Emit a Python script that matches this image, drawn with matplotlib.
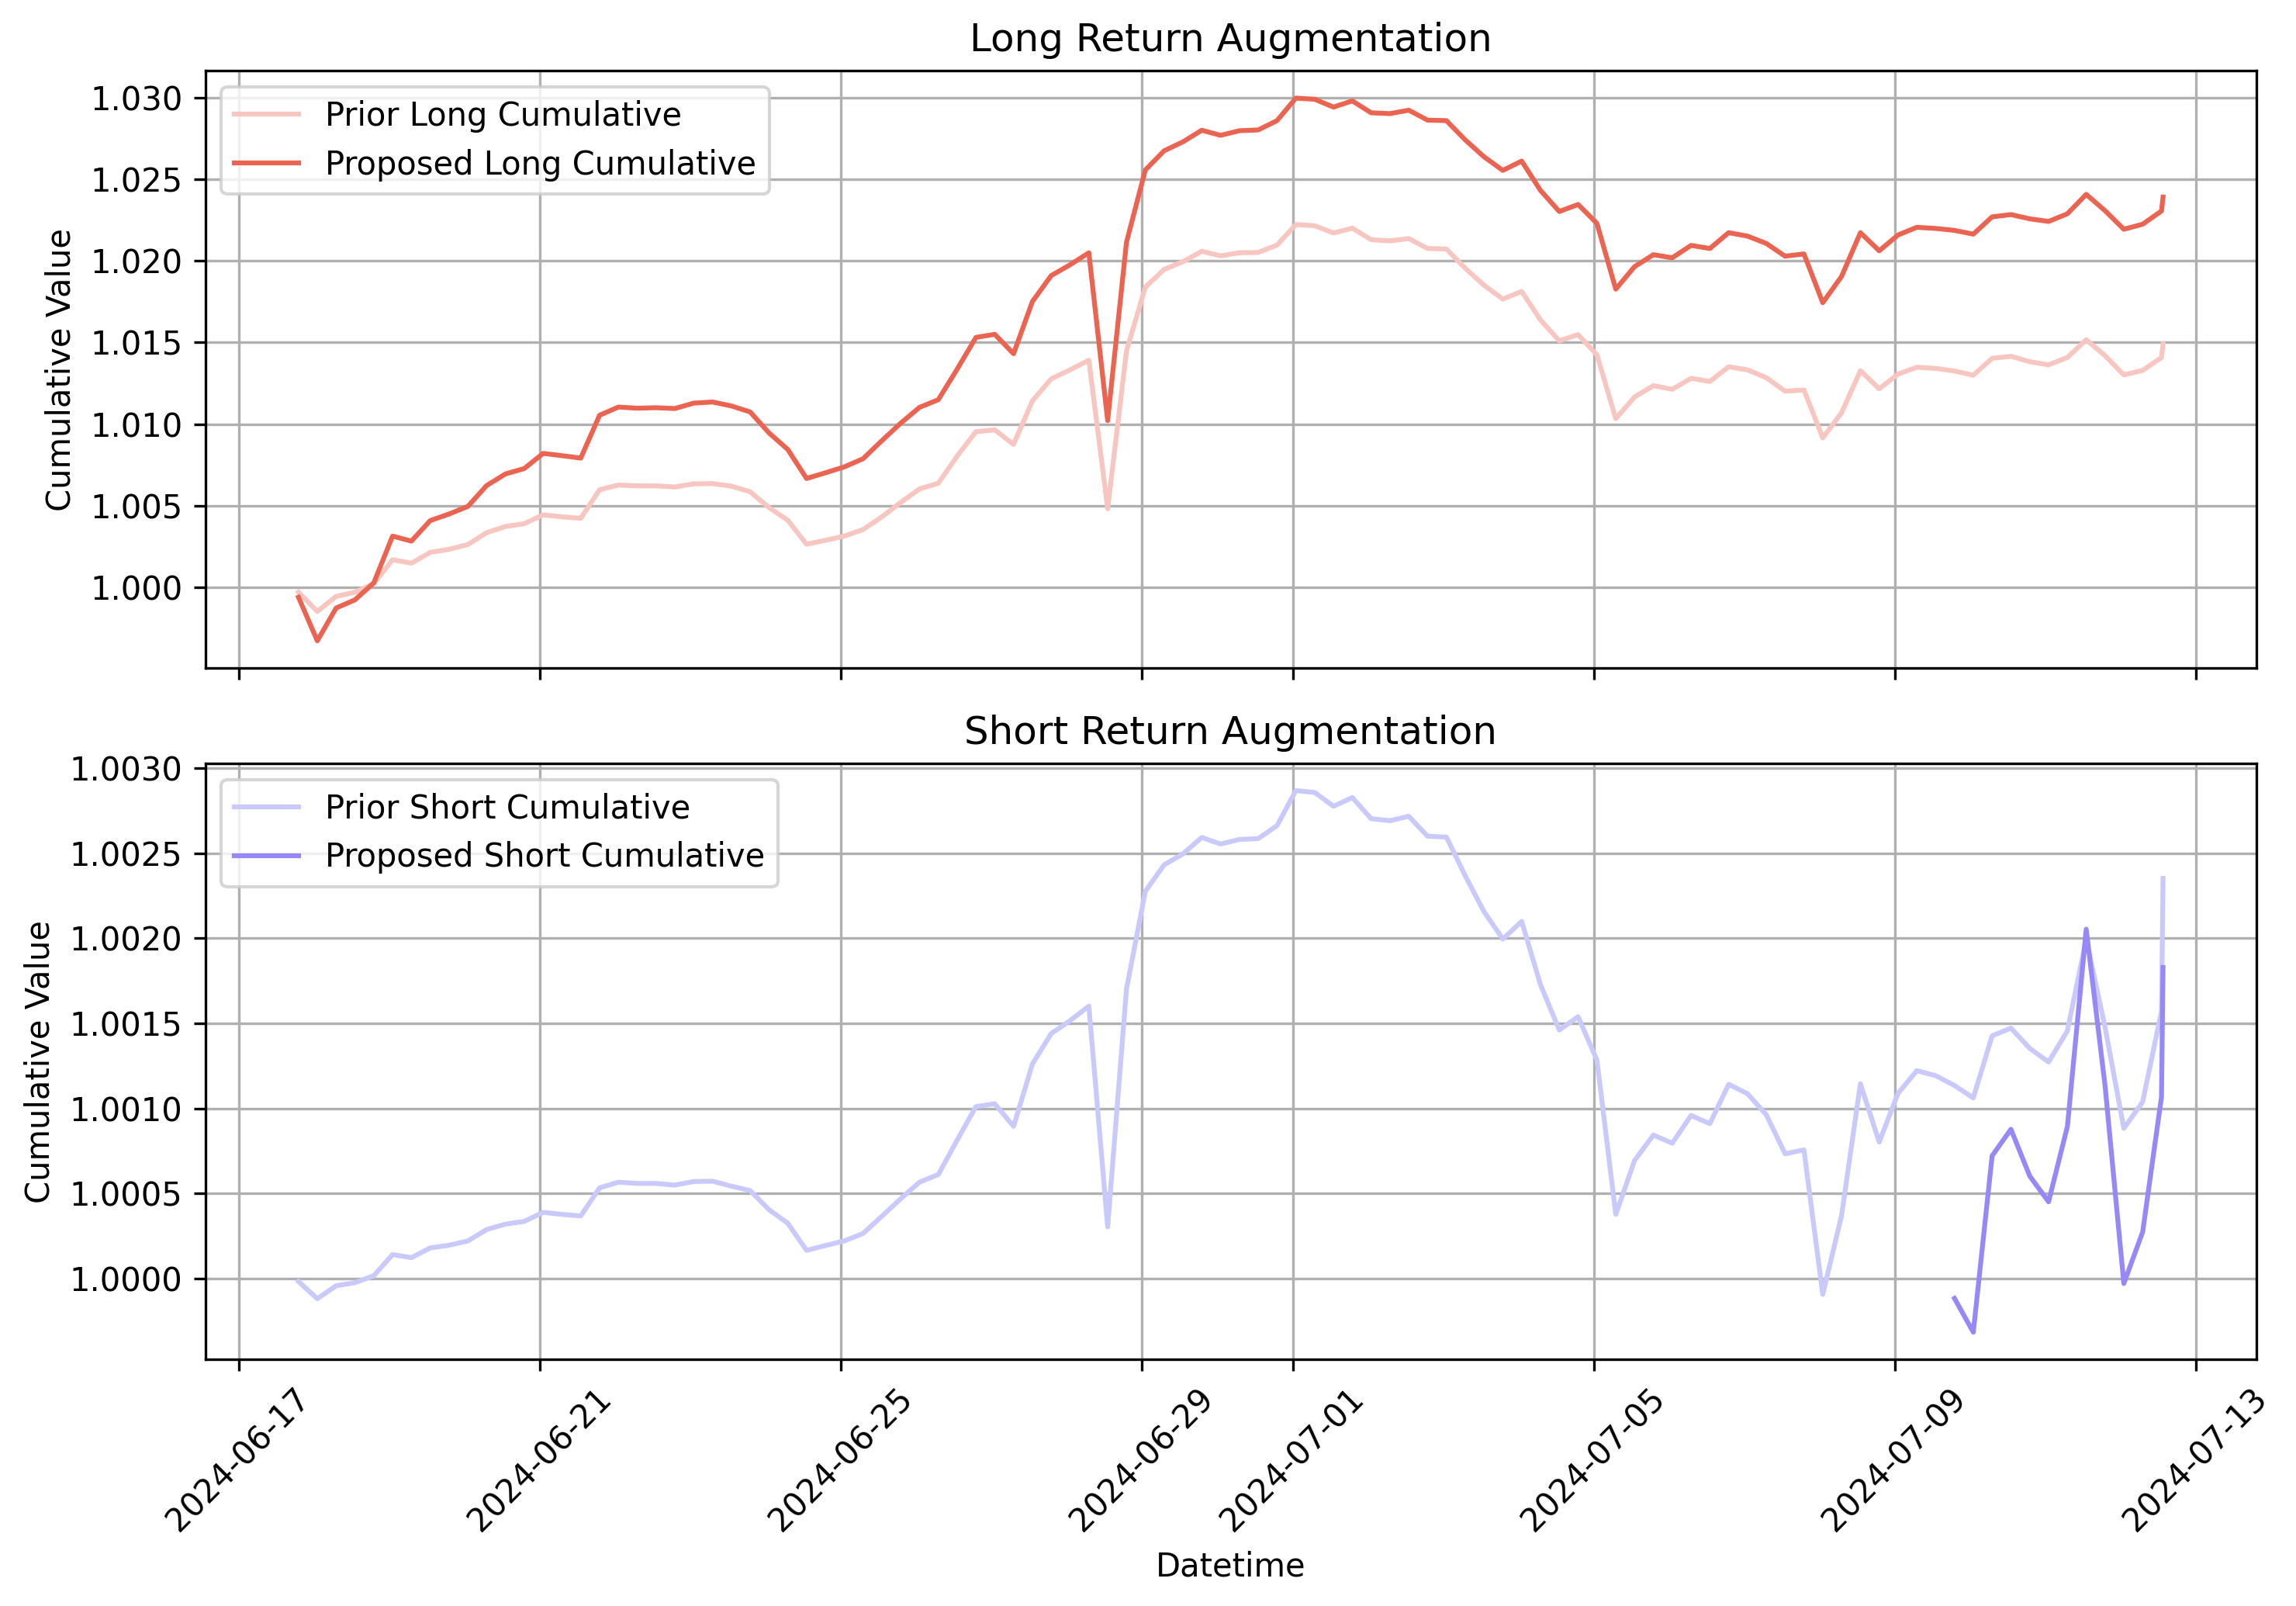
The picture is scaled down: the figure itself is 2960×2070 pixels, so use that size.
import numpy as np
import pandas as pd
import matplotlib
matplotlib.use("Agg")
import matplotlib.pyplot as plt
import matplotlib.dates as mdates
from matplotlib.ticker import FormatStrFormatter

# ---- data (6-hourly timestamps, plus one final stamp) ----
regular_times = pd.date_range("2024-06-17 19:00", periods=100, freq="6h")
last_time = pd.Timestamp("2024-07-12 13:30")
times = list(regular_times) + [last_time]

prior_long = [
    0.99969, 0.99851, 0.99943, 0.99969, 1.00021, 1.00168, 1.00147, 1.00213, 1.00232, 1.00261,
    1.00334, 1.00372, 1.00389, 1.00443, 1.00431, 1.00422, 1.00597, 1.00626, 1.00621, 1.00621,
    1.00614, 1.00633, 1.00635, 1.00619, 1.00585, 1.00488, 1.00410, 1.00263, 1.00287, 1.00313,
    1.00353, 1.00431, 1.00519, 1.00602, 1.00637, 1.00803, 1.00953, 1.00964, 1.00875, 1.01142,
    1.01277, 1.01332, 1.01391, 1.00481, 1.01448, 1.01839, 1.01948, 1.01995, 1.02059, 1.02031,
    1.02050, 1.02052, 1.02097, 1.02223, 1.02216, 1.02171, 1.02201, 1.02130, 1.02123, 1.02137,
    1.02076, 1.02073, 1.01955, 1.01851, 1.01766, 1.01813, 1.01638, 1.01510, 1.01548, 1.01424,
    1.01033, 1.01166, 1.01235, 1.01213, 1.01280, 1.01261, 1.01351, 1.01332, 1.01284, 1.01201,
    1.01209, 1.00915, 1.01069, 1.01327, 1.01216, 1.01306, 1.01348, 1.01341, 1.01325, 1.01299,
    1.01403, 1.01415, 1.01382, 1.01363, 1.01408, 1.01517, 1.01419, 1.01301, 1.01329, 1.01408,
    1.01491,
]

proposed_long = [
    0.99938, 0.99671, 0.99872, 0.99922, 1.00026, 1.00313, 1.00282, 1.00408, 1.00448, 1.00495,
    1.00623, 1.00694, 1.00727, 1.00820, 1.00806, 1.00791, 1.01054, 1.01104, 1.01097, 1.01100,
    1.01095, 1.01128, 1.01135, 1.01111, 1.01074, 1.00946, 1.00844, 1.00666, 1.00701, 1.00737,
    1.00787, 1.00898, 1.01005, 1.01102, 1.01149, 1.01336, 1.01531, 1.01550, 1.01431, 1.01751,
    1.01910, 1.01976, 1.02050, 1.01021, 1.02114, 1.02557, 1.02675, 1.02730, 1.02801, 1.02770,
    1.02798, 1.02803, 1.02860, 1.02998, 1.02991, 1.02943, 1.02981, 1.02908, 1.02903, 1.02924,
    1.02863, 1.02860, 1.02742, 1.02638, 1.02555, 1.02612, 1.02432, 1.02303, 1.02346, 1.02230,
    1.01827, 1.01965, 1.02038, 1.02019, 1.02095, 1.02076, 1.02173, 1.02152, 1.02107, 1.02029,
    1.02043, 1.01744, 1.01905, 1.02173, 1.02062, 1.02159, 1.02206, 1.02199, 1.02187, 1.02164,
    1.02270, 1.02284, 1.02258, 1.02242, 1.02289, 1.02408, 1.02308, 1.02194, 1.02225, 1.02306,
    1.02391,
]

prior_short = [
    0.999984, 0.999883, 0.999959, 0.999977, 1.000018, 1.000142, 1.000124, 1.000181, 1.000197, 1.000222,
    1.000289, 1.000321, 1.000337, 1.000390, 1.000378, 1.000369, 1.000534, 1.000567, 1.000560, 1.000560,
    1.000550, 1.000571, 1.000573, 1.000544, 1.000518, 1.000406, 1.000326, 1.000167, 1.000195, 1.000222,
    1.000266, 1.000367, 1.000470, 1.000567, 1.000612, 1.000814, 1.001011, 1.001028, 1.000895, 1.001261,
    1.001440, 1.001516, 1.001601, 1.000305, 1.001702, 1.002275, 1.002431, 1.002495, 1.002592, 1.002553,
    1.002580, 1.002585, 1.002661, 1.002867, 1.002856, 1.002775, 1.002826, 1.002702, 1.002690, 1.002716,
    1.002599, 1.002594, 1.002367, 1.002156, 1.001995, 1.002099, 1.001727, 1.001461, 1.001539, 1.001284,
    1.000378, 1.000695, 1.000844, 1.000796, 1.000959, 1.000911, 1.001142, 1.001087, 1.000963, 1.000734,
    1.000757, 0.999908, 1.000372, 1.001145, 1.000803, 1.001089, 1.001222, 1.001193, 1.001135, 1.001062,
    1.001427, 1.001472, 1.001353, 1.001273, 1.001456, 1.001995, 1.001479, 1.000883, 1.001039, 1.001571,
    1.002351,
]

# proposed short only exists for the last 13 stamps
proposed_short_tail = [
    0.999885, 0.999686, 1.000722, 1.000878, 1.000603, 1.000452, 1.000894,
    1.002053, 1.001135, 0.999972, 1.000275, 1.001067, 1.001828,
]
proposed_short = [np.nan] * (len(times) - len(proposed_short_tail)) + proposed_short_tail

# ---- colours ----
c_prior_long = "#F8C6C1"
c_prop_long = "#EB6351"
c_prior_short = "#C9C9FB"
c_prop_short = "#9788F7"

fig = plt.figure(figsize=(2960 / 300, 2070 / 300), dpi=300)
ax1 = fig.add_axes([0.0894, 0.5841, 0.9827 - 0.0894, 0.9558 - 0.5841])
ax2 = fig.add_axes([0.0894, 0.1536, 0.9827 - 0.0894, 0.5246 - 0.1536], sharex=ax1)

ax1.plot(times, prior_long, color=c_prior_long, lw=1.5, label="Prior Long Cumulative")
ax1.plot(times, proposed_long, color=c_prop_long, lw=1.5, label="Proposed Long Cumulative")
ax1.set_title("Long Return Augmentation")
ax1.set_ylabel("Cumulative Value")
ax1.legend(loc="upper left")
ax1.grid(True)
ax1.yaxis.set_major_formatter(FormatStrFormatter("%.3f"))
ax1.tick_params(axis="x", labelbottom=False)

ax2.plot(times, prior_short, color=c_prior_short, lw=1.5, label="Prior Short Cumulative")
ax2.plot(times, proposed_short, color=c_prop_short, lw=1.5, label="Proposed Short Cumulative")
ax2.set_title("Short Return Augmentation")
ax2.set_ylabel("Cumulative Value")
ax2.set_xlabel("Datetime")
ax2.legend(loc="upper left")
ax2.grid(True)
ax2.yaxis.set_major_formatter(FormatStrFormatter("%.4f"))

ax2.xaxis.set_major_locator(mdates.DayLocator(bymonthday=[1, 5, 9, 13, 17, 21, 25, 29]))
ax2.xaxis.set_major_formatter(mdates.DateFormatter("%Y-%m-%d"))
for lab in ax2.get_xticklabels():
    lab.set_rotation(45)

fig.savefig("out.png", dpi=300)
